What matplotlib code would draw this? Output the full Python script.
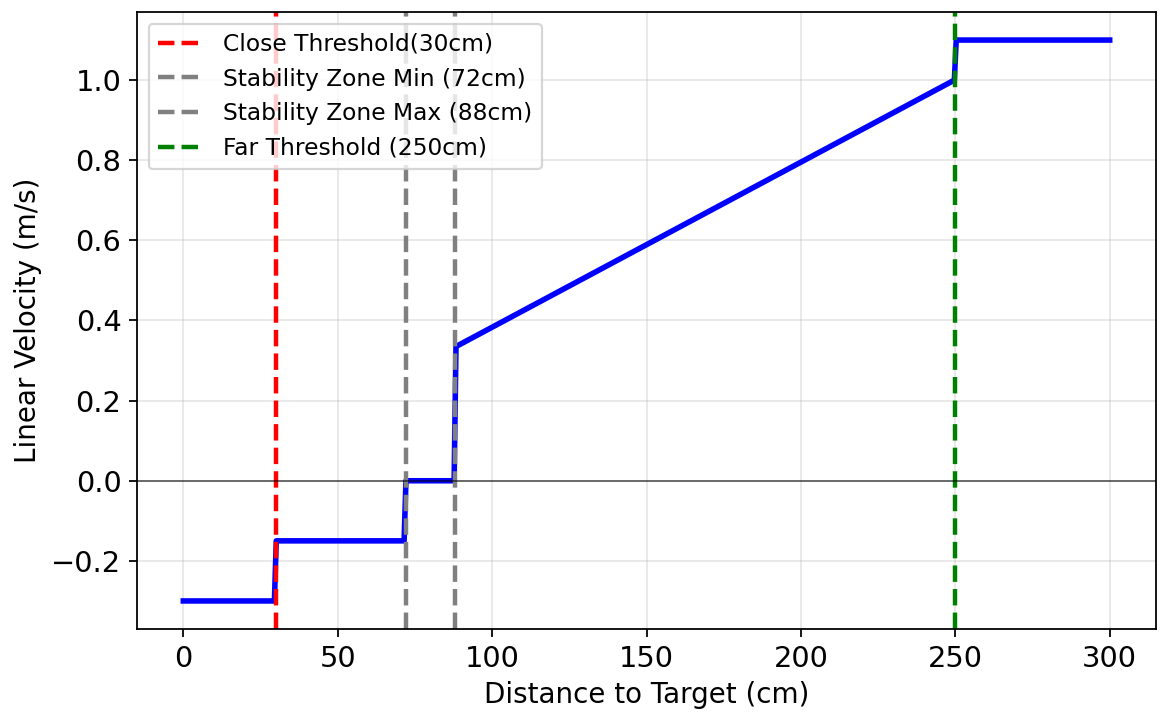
import matplotlib
matplotlib.use("Agg")
import matplotlib.pyplot as plt

# Data
distance = [0, 29.5, 30.1, 71.5, 72.1, 87.7, 88.3, 249.7, 250.3, 300]
velocity = [-0.3, -0.3, -0.15, -0.15, 0.0, 0.0, 0.335, 1.0, 1.1, 1.1]

threshold_values = [30, 72, 88, 250]
threshold_labels = ["Close Threshold(30cm)", "Stability Zone Min (72cm)",
                    "Stability Zone Max (88cm)", "Far Threshold (250cm)"]
threshold_colors = ["red", "gray", "gray", "green"]

x_ticks = [0, 50, 100, 150, 200, 250, 300]
y_ticks = [-0.2, 0.0, 0.2, 0.4, 0.6, 0.8, 1.0]

DPI = 160
fig = plt.figure(figsize=(1168 / DPI, 724 / DPI), dpi=DPI)
ax = fig.add_axes([137 / 1168, 1 - 629 / 724, (1156 - 137) / 1168, (629 - 12) / 724])

ax.plot(distance, velocity, color="blue", linewidth=2.5)
for xv, lab, col in zip(threshold_values, threshold_labels, threshold_colors):
    ax.axvline(xv, color=col, linestyle="--", linewidth=2, label=lab)
ax.axhline(0, color="black", linewidth=0.8, alpha=0.6)

ax.set_xticks(x_ticks)
ax.set_yticks(y_ticks)
ax.tick_params(labelsize=13)
ax.set_xlabel("Distance to Target (cm)", fontsize=12.5)
ax.set_ylabel("Linear Velocity (m/s)", fontsize=12.5)
ax.grid(True, alpha=0.3)
ax.legend(loc="upper left", fontsize=10.5)

fig.savefig("out.png", dpi=DPI)
